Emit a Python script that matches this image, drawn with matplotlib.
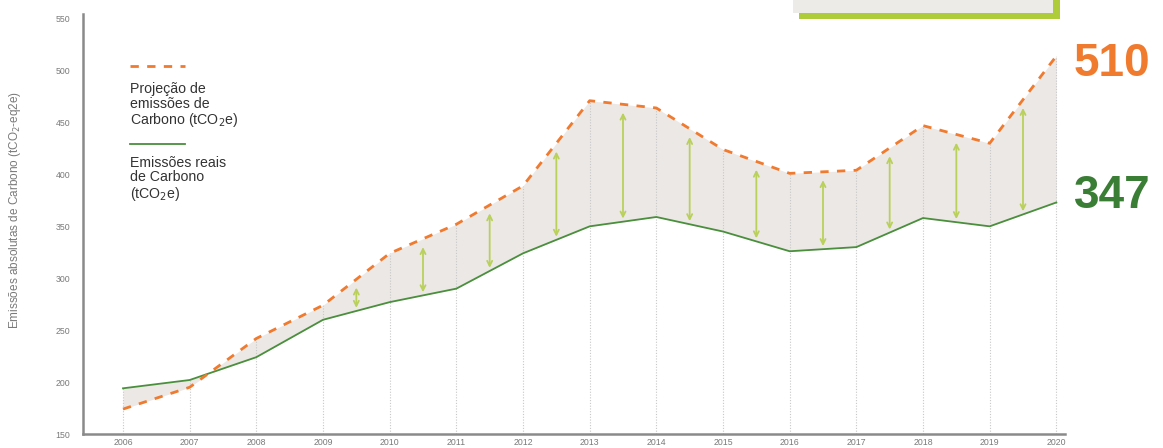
import matplotlib.pyplot as plt
import numpy as np
from matplotlib.patches import Rectangle

plt.rcParams['font.family'] = ['Liberation Sans', 'DejaVu Sans']

years = [2006, 2007, 2008, 2009, 2010, 2011, 2012, 2013, 2014, 2015, 2016, 2017, 2018, 2019, 2020]
projecao = [174, 195, 242, 274, 324, 352, 389, 471, 464, 424, 401, 404, 447, 430, 514]
reais = [194, 202, 224, 260, 277, 290, 324, 350, 359, 345, 326, 330, 358, 350, 373]
arrow_years = [2009.5, 2010.5, 2011.5, 2012.5, 2013.5, 2014.5, 2015.5, 2016.5, 2017.5, 2018.5, 2019.5]
yticks = [150, 200, 250, 300, 350, 400, 450, 500, 550]
label_proj = "510"
label_real = "347"

orange = "#f07a2e"
green = "#4a8f3c"
lime = "#b9d05a"
gray_txt = "#7a7a7a"

fig = plt.figure(figsize=(11.63, 4.48), dpi=100)
ax = fig.add_axes([83 / 1163, (448 - 434) / 448, (1065 - 83) / 1163, (434 - 14) / 448])

x = np.array(years)
p = np.array(projecao)
r = np.array(reais)

ax.fill_between(x, p, r, color="#ebe8e5", lw=0, zorder=1)
ax.vlines(x, 150, np.maximum(p, r), colors="#c8c8c8", linestyles=(0, (1, 1.5)), lw=0.8, zorder=1.5)
ax.plot(x, r, color=green, lw=1.3, zorder=3)
ax.plot(x, p, color=orange, lw=2, ls=(0, (3, 3)), zorder=4)

for ay in arrow_years:
    top = np.interp(ay, x, p) - 8
    bot = np.interp(ay, x, r) + 3
    ax.annotate("", xy=(ay, top), xytext=(ay, bot),
                arrowprops=dict(arrowstyle="<->", color=lime, lw=1.3,
                                mutation_scale=9, shrinkA=0, shrinkB=0), zorder=2)

ax.set_xlim(2005.4, 2020.13)
ax.set_ylim(150, 554.5)
ax.set_yticks(yticks)
ax.set_xticks(years)
ax.tick_params(length=0, labelsize=6.3, colors=gray_txt)
ax.tick_params(axis="x", pad=3)
ax.tick_params(axis="y", pad=9)
for s in ["top", "right"]:
    ax.spines[s].set_visible(False)
for s in ["left", "bottom"]:
    ax.spines[s].set_color("#8a8a8a")
    ax.spines[s].set_linewidth(1.8)
ax.set_ylabel("Emissões absolutas de Carbono (tCO$_2$-eq2e)", fontsize=8.5, color=gray_txt)
ax.yaxis.set_label_coords(-0.0615, 0.533)

# legend drawn by hand
ax.plot([2006.1, 2006.93], [504.5, 504.5], color=orange, lw=2, ls=(0, (3, 3)))
ax.text(2006.1, 489, "Projeção de\nemissões de\nCarbono (tCO$_2$e)", fontsize=10.2, color="#333333",
        va="top", ha="left", linespacing=1.05)
ax.plot([2006.1, 2006.93], [429, 429], color=green, lw=1.3)
ax.text(2006.1, 418, "Emissões reais\nde Carbono\n(tCO$_2$e)", fontsize=10.2, color="#333333",
        va="top", ha="left", linespacing=1.05)

fig.text(1074 / 1163, 1 - 64 / 448, label_proj, fontsize=33, color=orange, fontweight="bold",
         va="center", ha="left")
fig.text(1074 / 1163, 1 - 196 / 448, label_real, fontsize=33, color="#3a7d35", fontweight="bold",
         va="center", ha="left")

# partial box at the top
fig.patches.append(Rectangle((799 / 1163, 1 - 19 / 448), (1060 - 799) / 1163, 19 / 448 + 0.01,
                             transform=fig.transFigure, color="#aecb3a", lw=0))
fig.patches.append(Rectangle((793 / 1163, 1 - 13 / 448), (1053 - 793) / 1163, 13 / 448 + 0.01,
                             transform=fig.transFigure, color="#ecebe8", lw=0))

fig.savefig("out.png", dpi=100)
